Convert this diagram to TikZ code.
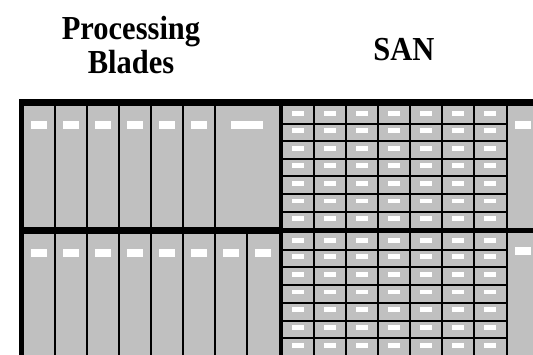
\documentclass[tikz,border=0pt]{standalone}
\usepackage{fontspec}
\setmainfont{Liberation Serif}
\definecolor{bladegray}{HTML}{C0C0C0}
\newcommand{\tallbox}[1]{\scalebox{1}[1.1]{#1}}
\begin{document}
\begin{tikzpicture}[x=1pt,y=-1pt,
  div/.style={draw=black,line width=2pt},
  lbl/.style={fill=white},
  title/.style={font=\fontsize{30.5}{32}\selectfont\bfseries, inner sep=0pt, anchor=base}]
\useasboundingbox (0,0) rectangle (533,355);
\begin{scope}
\clip (0,0) rectangle (533,355);
\fill[bladegray] (19,99) rectangle (540,365);
% blade dividers, top row
\foreach \x in {55.3,87.3,119.3,151.3,183.3,215.3}
  \draw[div] (\x,104) -- (\x,230);
% blade dividers, bottom row
\foreach \x in {55.3,87.3,119.3,151.3,183.3,215.3,247.3}
  \draw[div] (\x,232) -- (\x,365);
% SAN column dividers
\foreach \x in {314.3,346.3,378.3,410.3,442.3,474.3,506.7}
  \draw[div] (\x,104) -- (\x,365);
% SAN row dividers
\foreach \y in {123.7,141.3,158.9,176.5,194.1,211.7}
  \draw[div] (281,\y) -- (507.7,\y);
\foreach \y in {249.8,267.5,285.2,302.9,320.6,338.3,356}
  \draw[div] (281,\y) -- (507.7,\y);
% thick bars
\fill[black] (19,99) rectangle (540,106.5);
\fill[black] (19,99) rectangle (24.3,365);
\fill[black] (19,227.5) rectangle (281,234.5);
\fill[black] (281,228) rectangle (540,233.5);
\fill[black] (278.5,99) rectangle (283.3,365);
% blade labels
\foreach \i in {0,...,5}
  \fill[lbl] ({31+32*\i},121) rectangle ++(16,8);
\fill[lbl] (231,121) rectangle ++(32,8);
\foreach \i in {0,...,7}
  \fill[lbl] ({31+32*\i},249) rectangle ++(16,8);
% SAN labels
\foreach \r in {106.5,123.7,141.3,158.9,176.5,194.1,211.7,233.5,249.8,267.5,285.2,302.9,320.6,338.3}
  \foreach \j in {0,...,6}
    \fill[lbl] ({292+32*\j},{\r+4.5}) rectangle ++(12,4.8);
% right panel labels
\fill[lbl] (515,121) rectangle ++(16,8);
\fill[lbl] (515,247) rectangle ++(16,8);
\end{scope}
% titles
\node[title] (proc) at (131,39.5) {\tallbox{Processing}};
\node[title] (blades) at (131,73.5) {\tallbox{Blades}};
\node[title] (san) at (404,61) {\tallbox{SAN}};
\end{tikzpicture}
\end{document}
